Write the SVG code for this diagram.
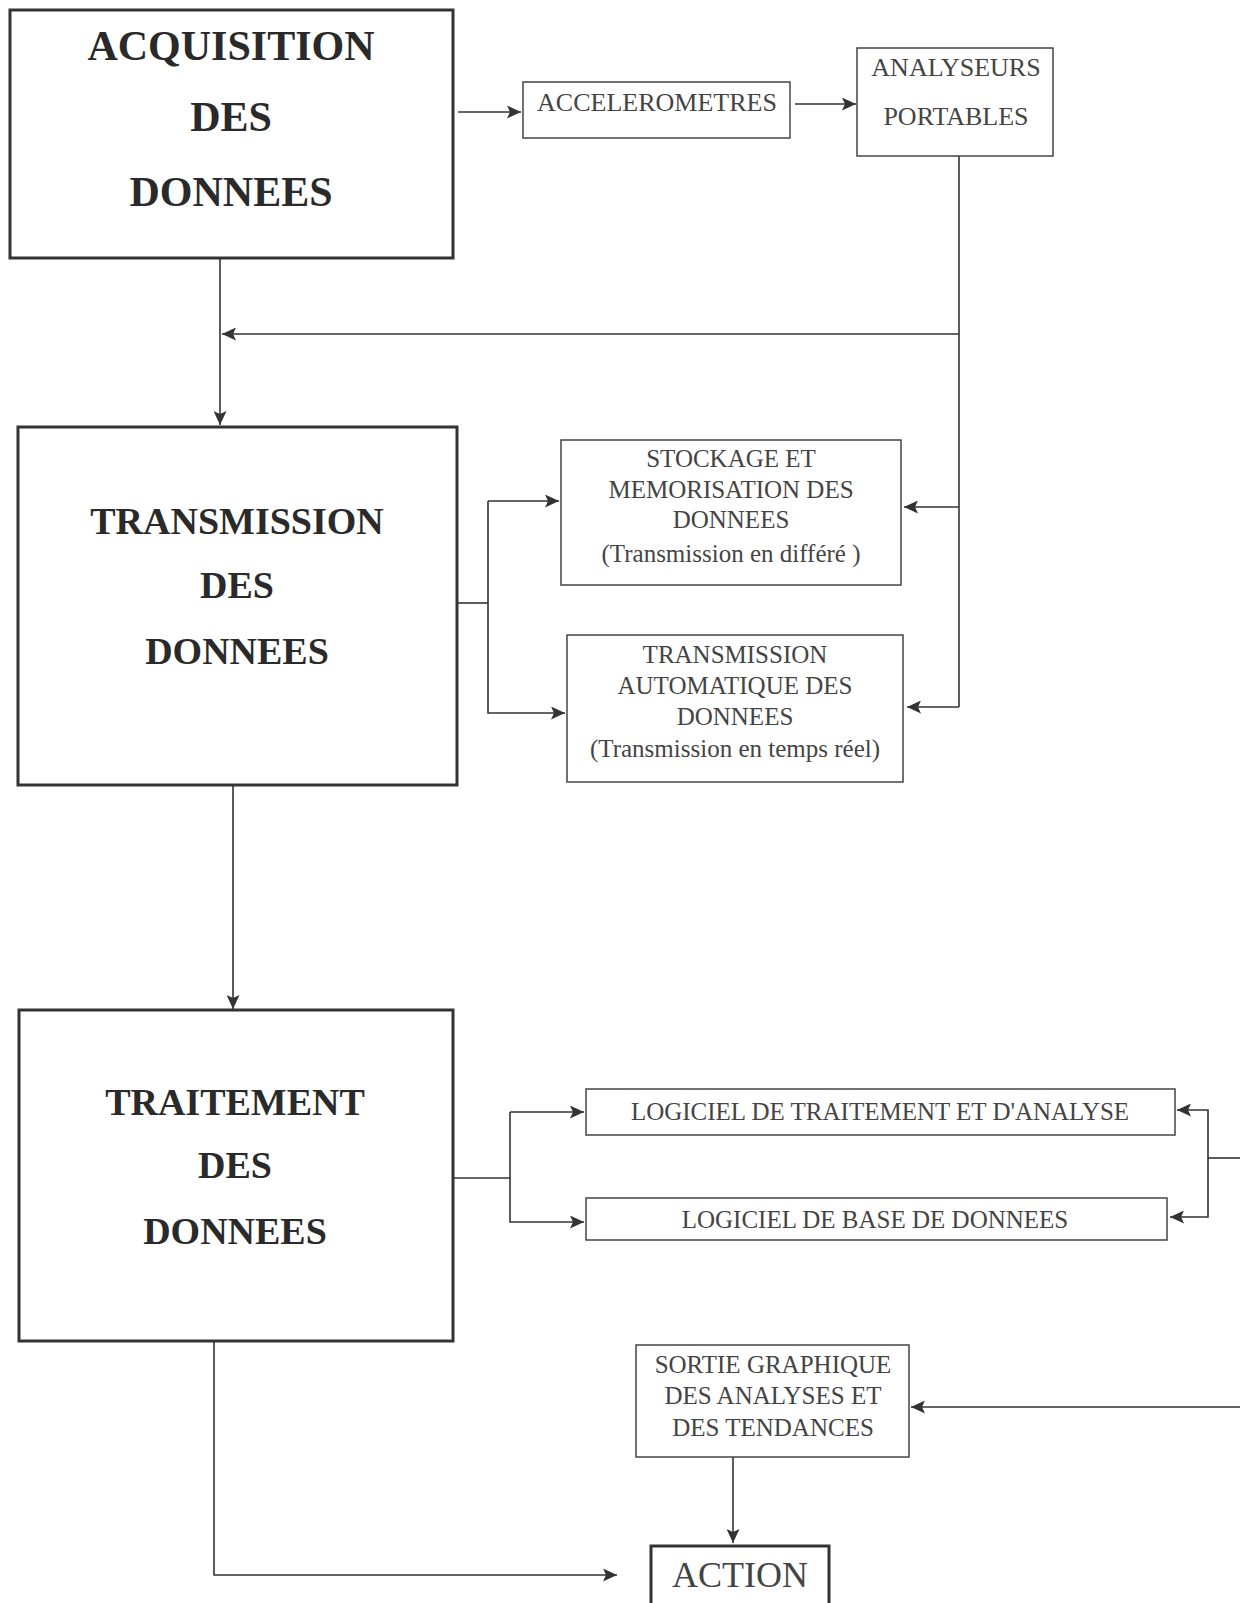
<svg xmlns="http://www.w3.org/2000/svg" width="1240" height="1603" viewBox="0 0 1240 1603">
<defs>
<marker id="ah" markerUnits="userSpaceOnUse" markerWidth="15" markerHeight="13" refX="14" refY="6.5" orient="auto">
<path d="M0,0 L14,6.5 L0,13 L3,6.5 Z" fill="#333"/>
</marker>
<style>
.big{fill:#fff;stroke:#333;stroke-width:3}
.box{fill:#fff;stroke:#444;stroke-width:1.5}
.t{font-family:"Liberation Serif","Times New Roman",serif;font-weight:bold;fill:#2a2a2a;text-anchor:middle}
.s{font-family:"Liberation Serif","Times New Roman",serif;font-size:25px;fill:#444;text-anchor:middle}
.c{fill:none;stroke:#333;stroke-width:1.6}
.a{marker-end:url(#ah)}
</style>
</defs>
<rect width="1240" height="1603" fill="#fff"/>

<g id="connectors">
<path class="c a" d="M458,112 H521"/>
<path class="c a" d="M795,104 H856"/>
<path class="c" d="M959,156 V707"/>
<path class="c a" d="M959,334 H222"/>
<path class="c a" d="M220,258 V425"/>
<path class="c a" d="M959,507 H904"/>
<path class="c a" d="M959,707 H907"/>
<path class="c" d="M457,603 H488"/>
<path class="c a" d="M488,501 V501 H559"/>
<path class="c a" d="M488,501 V713 H565"/>
<path class="c a" d="M233,785 V1009"/>
<path class="c" d="M453,1178 H510"/>
<path class="c a" d="M510,1112 H584"/>
<path class="c a" d="M510,1112 V1222 H584"/>
<path class="c" d="M1240,1158 H1208"/>
<path class="c a" d="M1208,1158 V1110 H1177"/>
<path class="c a" d="M1208,1158 V1217 H1170"/>
<path class="c a" d="M1240,1407 H911"/>
<path class="c a" d="M733,1457 V1543"/>
<path class="c a" d="M214,1341 V1575 H617"/>
</g>

<g id="acquisition">
<rect class="big" x="10" y="10" width="443" height="248"/>
<text class="t" x="231" y="60" style="font-size:42px">ACQUISITION</text>
<text class="t" x="231" y="131" style="font-size:42px">DES</text>
<text class="t" x="231" y="206" style="font-size:42px">DONNEES</text>
</g>

<g id="accelerometres">
<rect class="box" x="523" y="82" width="267" height="56"/>
<text class="s" x="657" y="111" style="font-size:26px">ACCELEROMETRES</text>
</g>

<g id="analyseurs">
<rect class="box" x="857" y="48" width="196" height="108"/>
<text class="s" x="956" y="76" style="font-size:26px">ANALYSEURS</text>
<text class="s" x="956" y="125" style="font-size:26px">PORTABLES</text>
</g>

<g id="transmission">
<rect class="big" x="18" y="427" width="439" height="358"/>
<text class="t" x="237" y="534" style="font-size:38px">TRANSMISSION</text>
<text class="t" x="237" y="598" style="font-size:38px">DES</text>
<text class="t" x="237" y="664" style="font-size:38px">DONNEES</text>
</g>

<g id="stockage">
<rect class="box" x="561" y="440" width="340" height="145"/>
<text class="s" x="731" y="467">STOCKAGE ET</text>
<text class="s" x="731" y="498">MEMORISATION DES</text>
<text class="s" x="731" y="528">DONNEES</text>
<text class="s" x="731" y="562">(Transmission en différé )</text>
</g>

<g id="transmission-auto">
<rect class="box" x="567" y="635" width="336" height="147"/>
<text class="s" x="735" y="663">TRANSMISSION</text>
<text class="s" x="735" y="694">AUTOMATIQUE DES</text>
<text class="s" x="735" y="725">DONNEES</text>
<text class="s" x="735" y="757">(Transmission en temps réel)</text>
</g>

<g id="traitement">
<rect class="big" x="19" y="1010" width="434" height="331"/>
<text class="t" x="235" y="1115" style="font-size:38px">TRAITEMENT</text>
<text class="t" x="235" y="1178" style="font-size:38px">DES</text>
<text class="t" x="235" y="1244" style="font-size:38px">DONNEES</text>
</g>

<g id="logiciel-traitement">
<rect class="box" x="586" y="1089" width="589" height="46"/>
<text class="s" x="880" y="1120">LOGICIEL DE TRAITEMENT ET D'ANALYSE</text>
</g>

<g id="logiciel-base">
<rect class="box" x="586" y="1198" width="581" height="42"/>
<text class="s" x="875" y="1228">LOGICIEL DE BASE DE DONNEES</text>
</g>

<g id="sortie">
<rect class="box" x="636" y="1345" width="273" height="112"/>
<text class="s" x="773" y="1373">SORTIE GRAPHIQUE</text>
<text class="s" x="773" y="1404">DES ANALYSES ET</text>
<text class="s" x="773" y="1436">DES TENDANCES</text>
</g>

<g id="action">
<rect class="big" x="651" y="1546" width="178" height="70"/>
<text class="s" x="740" y="1587" style="font-size:36px">ACTION</text>
</g>
</svg>
